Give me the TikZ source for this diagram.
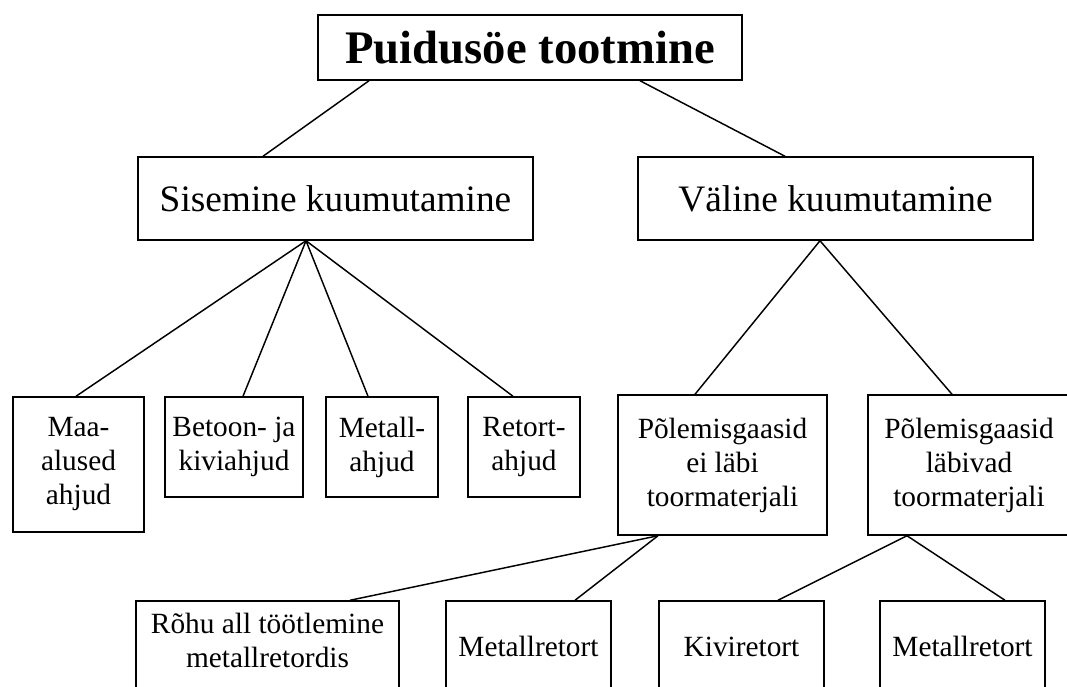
\documentclass[tikz,border=0pt]{standalone}
\usepackage{fontspec}
\setmainfont{Liberation Serif}
\newcommand{\pxu}{0.75pt}
\begin{document}
\begin{tikzpicture}[x=0.75pt,y=-0.75pt,line width=1.1pt,
  box/.style={draw,rectangle,inner sep=0pt,align=center,font=\fontsize{22pt}{25.5pt}\selectfont},
  midbox/.style={box,font=\fontsize{28pt}{32pt}\selectfont},
  titlebox/.style={box,font=\fontsize{35pt}{40pt}\selectfont\bfseries}]
\useasboundingbox (0,0) rectangle (1067,686);
\clip (0,0) rectangle (1067,686);
% level 1
\node[titlebox,minimum width=424*\pxu,minimum height=65*\pxu] (top) at (530,47.5) {Puidusöe tootmine};
% level 2
\node[midbox,minimum width=395*\pxu,minimum height=83*\pxu] (sis) at (335.5,198.5) {Sisemine kuumutamine};
\node[midbox,minimum width=395*\pxu,minimum height=83*\pxu] (val) at (835.5,198.5) {Väline kuumutamine};
% level 3
\node[box,minimum width=131*\pxu,minimum height=135*\pxu] (maa) at (78.5,464.5) {Maa-\\alused\\ahjud};
\node[box,minimum width=138*\pxu,minimum height=100*\pxu] (bet) at (234,447) {Betoon- ja\\kiviahjud};
\node[box,minimum width=112*\pxu,minimum height=100*\pxu] (met) at (382,447) {Metall-\\ahjud};
\node[box,minimum width=112*\pxu,minimum height=100*\pxu] (ret) at (524,447) {Retort-\\ahjud};
\node[box,minimum width=209*\pxu,minimum height=140*\pxu] (pe) at (722.5,465) {Põlemisgaasid\\ei läbi\\toormaterjali};
\node[box,minimum width=202*\pxu,minimum height=140*\pxu] (pl) at (969,465) {Põlemisgaasid\\läbivad\\toormaterjali};
% level 4
\node[box,minimum width=263*\pxu,minimum height=91*\pxu,text depth=9.75pt] (rohu) at (267.5,646.5) {Rõhu all töötlemine\\metallretordis};
\node[box,minimum width=165*\pxu,minimum height=91*\pxu] (mra) at (528.5,646.5) {Metallretort};
\node[box,minimum width=165*\pxu,minimum height=91*\pxu] (kivi) at (741.5,646.5) {Kiviretort};
\node[box,minimum width=165*\pxu,minimum height=91*\pxu] (mrb) at (962.5,646.5) {Metallretort};
% connectors
\draw ([xshift=-161*\pxu]top.south) -- ([xshift=-72.5*\pxu]sis.north);
\draw ([xshift=110*\pxu]top.south) -- ([xshift=-50.5*\pxu]val.north);
\draw ([xshift=-29.5*\pxu]sis.south) -- ([xshift=-2.5*\pxu]maa.north);
\draw ([xshift=-29.5*\pxu]sis.south) -- ([xshift=9*\pxu]bet.north);
\draw ([xshift=-29.5*\pxu]sis.south) -- ([xshift=-14*\pxu]met.north);
\draw ([xshift=-29.5*\pxu]sis.south) -- ([xshift=-11*\pxu]ret.north);
\draw ([xshift=-15.5*\pxu]val.south) -- ([xshift=-27.5*\pxu]pe.north);
\draw ([xshift=-15.5*\pxu]val.south) -- ([xshift=-17*\pxu]pl.north);
\draw ([xshift=-64.5*\pxu]pe.south) -- ([xshift=82.5*\pxu]rohu.north);
\draw ([xshift=-64.5*\pxu]pe.south) -- ([xshift=46.5*\pxu]mra.north);
\draw ([xshift=-62*\pxu]pl.south) -- ([xshift=36.5*\pxu]kivi.north);
\draw ([xshift=-62*\pxu]pl.south) -- ([xshift=42.5*\pxu]mrb.north);
\end{tikzpicture}
\end{document}
